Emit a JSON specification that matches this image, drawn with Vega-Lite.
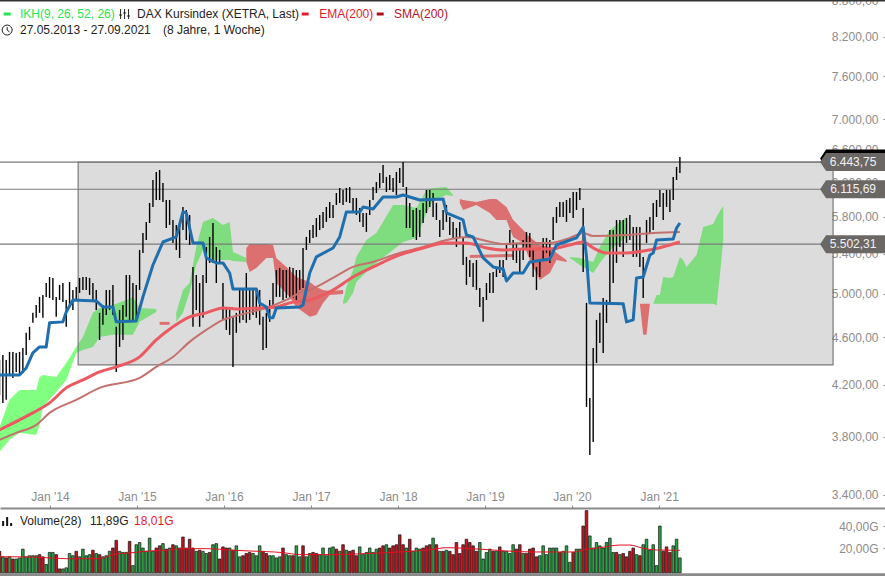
{"$schema":"https://vega.github.io/schema/vega-lite/v6.json","width":885,"height":576,"padding":0,"autosize":{"type":"none"},"background":"white","view":{"stroke":null},"config":{"font":"Liberation Sans","text":{"font":"Liberation Sans"},"axis":{"labelFont":"Liberation Sans"}},
"datasets":{
"bars":[
{"d":"2013-06-03","hi":4404,"lo":4118,"v":17,"c":"d"},{"d":"2013-06-17","hi":4447,"lo":4055,"v":12,"c":"u"},{"d":"2013-07-01","hi":4404,"lo":4079,"v":11,"c":"d"},{"d":"2013-07-15","hi":4473,"lo":4279,"v":12,"c":"u"},{"d":"2013-07-29","hi":4473,"lo":4255,"v":10,"c":"d"},{"d":"2013-08-12","hi":4464,"lo":4304,"v":10,"c":"u"},{"d":"2013-08-26","hi":4473,"lo":4279,"v":11,"c":"u"},{"d":"2013-09-09","hi":4507,"lo":4296,"v":19,"c":"u"},{"d":"2013-09-23","hi":4640,"lo":4447,"v":12,"c":"u"},{"d":"2013-10-07","hi":4694,"lo":4577,"v":13,"c":"u"},{"d":"2013-10-21","hi":4822,"lo":4730,"v":13,"c":"u"},{"d":"2013-11-04","hi":4896,"lo":4776,"v":13,"c":"u"},{"d":"2013-11-18","hi":4972,"lo":4822,"v":14,"c":"d"},{"d":"2013-12-02","hi":4991,"lo":4776,"v":12,"c":"d"},{"d":"2013-12-16","hi":5107,"lo":4972,"v":5,"c":"u"},{"d":"2013-12-30","hi":5166,"lo":4962,"v":16,"c":"u"},
{"d":"2014-01-13","hi":5157,"lo":4943,"v":16,"c":"u"},{"d":"2014-01-27","hi":4972,"lo":4785,"v":14,"c":"d"},{"d":"2014-02-10","hi":5088,"lo":4943,"v":1,"c":"d"},{"d":"2014-02-24","hi":5107,"lo":4924,"v":1,"c":"u"},{"d":"2014-03-10","hi":4943,"lo":4694,"v":2,"c":"u"},{"d":"2014-03-24","hi":5117,"lo":4877,"v":15,"c":"u"},{"d":"2014-04-07","hi":5039,"lo":4849,"v":13,"c":"u"},{"d":"2014-04-21","hi":5068,"lo":4943,"v":17,"c":"d"},{"d":"2014-05-05","hi":5157,"lo":5010,"v":12,"c":"u"},{"d":"2014-05-19","hi":5166,"lo":5039,"v":19,"c":"u"},{"d":"2014-06-02","hi":5166,"lo":5039,"v":13,"c":"u"},{"d":"2014-06-16","hi":5157,"lo":4991,"v":14,"c":"u"},{"d":"2014-06-30","hi":5107,"lo":4943,"v":18,"c":"d"},{"d":"2014-07-14","hi":5039,"lo":4849,"v":15,"c":"u"},{"d":"2014-07-28","hi":4822,"lo":4577,"v":14,"c":"d"},{"d":"2014-08-11","hi":4896,"lo":4712,"v":12,"c":"u"},{"d":"2014-08-25","hi":5039,"lo":4803,"v":13,"c":"u"},{"d":"2014-09-08","hi":5039,"lo":4849,"v":17,"c":"u"},{"d":"2014-09-22","hi":5088,"lo":4803,"v":20,"c":"d"},{"d":"2014-10-06","hi":4694,"lo":4304,"v":27,"c":"d"},{"d":"2014-10-20","hi":4849,"lo":4516,"v":17,"c":"u"},{"d":"2014-11-03","hi":4896,"lo":4577,"v":16,"c":"u"},{"d":"2014-11-17","hi":5186,"lo":4785,"v":16,"c":"u"},{"d":"2014-12-01","hi":5186,"lo":4757,"v":26,"c":"d"},{"d":"2014-12-15","hi":5107,"lo":4757,"v":4,"c":"u"},{"d":"2014-12-29","hi":5088,"lo":4757,"v":23,"c":"u"},
{"d":"2015-01-12","hi":5442,"lo":5039,"v":25,"c":"u"},{"d":"2015-01-26","hi":5623,"lo":5411,"v":20,"c":"u"},{"d":"2015-02-09","hi":5743,"lo":5547,"v":17,"c":"u"},{"d":"2015-02-23","hi":5957,"lo":5732,"v":29,"c":"u"},{"d":"2015-03-09","hi":6226,"lo":5911,"v":17,"c":"u"},{"d":"2015-03-23","hi":6323,"lo":5991,"v":20,"c":"d"},{"d":"2015-04-06","hi":6347,"lo":5991,"v":22,"c":"d"},{"d":"2015-04-20","hi":6190,"lo":5968,"v":24,"c":"u"},{"d":"2015-05-04","hi":5991,"lo":5677,"v":19,"c":"d"},{"d":"2015-05-18","hi":5991,"lo":5710,"v":20,"c":"u"},{"d":"2015-06-01","hi":5765,"lo":5516,"v":23,"c":"d"},{"d":"2015-06-15","hi":5710,"lo":5442,"v":22,"c":"u"},{"d":"2015-06-29","hi":5732,"lo":5359,"v":20,"c":"d"},{"d":"2015-07-13","hi":5911,"lo":5655,"v":30,"c":"d"},{"d":"2015-07-27","hi":5877,"lo":5547,"v":20,"c":"d"},{"d":"2015-08-10","hi":5821,"lo":5494,"v":28,"c":"d"},{"d":"2015-08-24","hi":5267,"lo":4694,"v":20,"c":"d"},{"d":"2015-09-07","hi":5186,"lo":4849,"v":17,"c":"u"},{"d":"2015-09-21","hi":5107,"lo":4694,"v":18,"c":"d"},{"d":"2015-10-05","hi":5186,"lo":4776,"v":17,"c":"u"},{"d":"2015-10-19","hi":5473,"lo":5107,"v":15,"c":"u"},{"d":"2015-11-02","hi":5580,"lo":5308,"v":16,"c":"d"},{"d":"2015-11-16","hi":5732,"lo":5308,"v":23,"c":"u"},{"d":"2015-11-30","hi":5473,"lo":5107,"v":24,"c":"u"},{"d":"2015-12-14","hi":5442,"lo":5308,"v":10,"c":"d"},{"d":"2015-12-28","hi":5107,"lo":4757,"v":21,"c":"d"},
{"d":"2016-01-11","hi":4877,"lo":4666,"v":20,"c":"d"},{"d":"2016-01-25","hi":4849,"lo":4622,"v":20,"c":"u"},{"d":"2016-02-08","hi":4785,"lo":4346,"v":18,"c":"d"},{"d":"2016-02-22","hi":4822,"lo":4640,"v":22,"c":"u"},{"d":"2016-03-07","hi":5039,"lo":4730,"v":12,"c":"u"},{"d":"2016-03-21","hi":5039,"lo":4757,"v":13,"c":"d"},{"d":"2016-04-04","hi":5206,"lo":4730,"v":15,"c":"d"},{"d":"2016-04-18","hi":5039,"lo":4757,"v":16,"c":"d"},{"d":"2016-05-02","hi":5039,"lo":4803,"v":15,"c":"u"},{"d":"2016-05-16","hi":5039,"lo":4776,"v":13,"c":"u"},{"d":"2016-05-30","hi":5039,"lo":4712,"v":22,"c":"u"},{"d":"2016-06-13","hi":4785,"lo":4490,"v":17,"c":"d"},{"d":"2016-06-27","hi":4822,"lo":4507,"v":15,"c":"d"},{"d":"2016-07-11","hi":4943,"lo":4739,"v":13,"c":"u"},{"d":"2016-07-25","hi":5107,"lo":4877,"v":13,"c":"u"},{"d":"2016-08-08","hi":5236,"lo":4972,"v":11,"c":"u"},{"d":"2016-08-22","hi":5257,"lo":4972,"v":12,"c":"u"},{"d":"2016-09-05","hi":5236,"lo":4943,"v":20,"c":"d"},{"d":"2016-09-19","hi":5236,"lo":4962,"v":14,"c":"u"},{"d":"2016-10-03","hi":5267,"lo":4972,"v":13,"c":"u"},{"d":"2016-10-17","hi":5257,"lo":4962,"v":13,"c":"d"},{"d":"2016-10-31","hi":5236,"lo":4943,"v":22,"c":"u"},{"d":"2016-11-14","hi":5236,"lo":5039,"v":12,"c":"u"},{"d":"2016-11-28","hi":5463,"lo":5058,"v":22,"c":"d"},{"d":"2016-12-12","hi":5580,"lo":5442,"v":12,"c":"u"},{"d":"2016-12-26","hi":5655,"lo":5516,"v":15,"c":"u"},
{"d":"2017-01-09","hi":5710,"lo":5569,"v":16,"c":"d"},{"d":"2017-01-23","hi":5787,"lo":5580,"v":15,"c":"d"},{"d":"2017-02-06","hi":5821,"lo":5655,"v":14,"c":"u"},{"d":"2017-02-20","hi":5855,"lo":5677,"v":20,"c":"u"},{"d":"2017-03-06","hi":5911,"lo":5743,"v":13,"c":"u"},{"d":"2017-03-20","hi":5968,"lo":5787,"v":20,"c":"u"},{"d":"2017-04-03","hi":5934,"lo":5787,"v":21,"c":"u"},{"d":"2017-04-17","hi":6072,"lo":5934,"v":19,"c":"d"},{"d":"2017-05-01","hi":6131,"lo":5957,"v":17,"c":"u"},{"d":"2017-05-15","hi":6107,"lo":5934,"v":23,"c":"d"},{"d":"2017-05-29","hi":6131,"lo":5968,"v":18,"c":"u"},{"d":"2017-06-12","hi":6143,"lo":5957,"v":17,"c":"d"},{"d":"2017-06-26","hi":6014,"lo":5843,"v":18,"c":"d"},{"d":"2017-07-10","hi":6014,"lo":5821,"v":13,"c":"d"},{"d":"2017-07-24","hi":5900,"lo":5743,"v":21,"c":"u"},{"d":"2017-08-07","hi":5843,"lo":5688,"v":14,"c":"u"},{"d":"2017-08-21","hi":5843,"lo":5634,"v":16,"c":"u"},{"d":"2017-09-04","hi":5991,"lo":5821,"v":20,"c":"u"},{"d":"2017-09-18","hi":6143,"lo":5991,"v":16,"c":"u"},{"d":"2017-10-02","hi":6202,"lo":6072,"v":19,"c":"u"},{"d":"2017-10-16","hi":6311,"lo":6131,"v":20,"c":"d"},{"d":"2017-10-30","hi":6408,"lo":6190,"v":22,"c":"d"},{"d":"2017-11-13","hi":6263,"lo":6084,"v":23,"c":"u"},{"d":"2017-11-27","hi":6287,"lo":6107,"v":20,"c":"d"},{"d":"2017-12-11","hi":6251,"lo":6084,"v":22,"c":"d"},{"d":"2017-12-25","hi":6323,"lo":6049,"v":23,"c":"d"},
{"d":"2018-01-08","hi":6372,"lo":6190,"v":32,"c":"d"},{"d":"2018-01-22","hi":6445,"lo":6143,"v":23,"c":"d"},{"d":"2018-02-05","hi":6143,"lo":5677,"v":20,"c":"u"},{"d":"2018-02-19","hi":5957,"lo":5677,"v":28,"c":"d"},{"d":"2018-03-05","hi":5877,"lo":5580,"v":17,"c":"u"},{"d":"2018-03-19","hi":5900,"lo":5547,"v":20,"c":"u"},{"d":"2018-04-02","hi":5877,"lo":5580,"v":19,"c":"u"},{"d":"2018-04-16","hi":5957,"lo":5732,"v":20,"c":"d"},{"d":"2018-04-30","hi":6107,"lo":5843,"v":22,"c":"d"},{"d":"2018-05-14","hi":6107,"lo":5911,"v":23,"c":"d"},{"d":"2018-05-28","hi":6072,"lo":5798,"v":29,"c":"u"},{"d":"2018-06-11","hi":5957,"lo":5765,"v":23,"c":"d"},{"d":"2018-06-25","hi":5765,"lo":5580,"v":17,"c":"u"},{"d":"2018-07-09","hi":5877,"lo":5655,"v":17,"c":"d"},{"d":"2018-07-23","hi":5934,"lo":5743,"v":18,"c":"u"},{"d":"2018-08-06","hi":5798,"lo":5601,"v":17,"c":"d"},{"d":"2018-08-20","hi":5743,"lo":5569,"v":14,"c":"d"},{"d":"2018-09-03","hi":5677,"lo":5473,"v":25,"c":"d"},{"d":"2018-09-17","hi":5743,"lo":5580,"v":15,"c":"d"},{"d":"2018-10-01","hi":5569,"lo":5287,"v":23,"c":"d"},{"d":"2018-10-15","hi":5370,"lo":5088,"v":28,"c":"d"},{"d":"2018-10-29","hi":5338,"lo":5166,"v":25,"c":"d"},{"d":"2018-11-12","hi":5308,"lo":5068,"v":22,"c":"d"},{"d":"2018-11-26","hi":5338,"lo":5039,"v":17,"c":"d"},{"d":"2018-12-10","hi":5058,"lo":4877,"v":25,"c":"u"},{"d":"2018-12-24","hi":4972,"lo":4739,"v":10,"c":"u"},
{"d":"2019-01-07","hi":5107,"lo":4943,"v":16,"c":"u"},{"d":"2019-01-21","hi":5206,"lo":5010,"v":19,"c":"u"},{"d":"2019-02-04","hi":5216,"lo":5010,"v":17,"c":"d"},{"d":"2019-02-18","hi":5267,"lo":5166,"v":17,"c":"u"},{"d":"2019-03-04","hi":5338,"lo":5206,"v":21,"c":"d"},{"d":"2019-03-18","hi":5338,"lo":5166,"v":17,"c":"u"},{"d":"2019-04-01","hi":5516,"lo":5338,"v":17,"c":"u"},{"d":"2019-04-15","hi":5655,"lo":5494,"v":15,"c":"u"},{"d":"2019-04-29","hi":5547,"lo":5338,"v":23,"c":"u"},{"d":"2019-05-13","hi":5516,"lo":5308,"v":19,"c":"d"},{"d":"2019-05-27","hi":5442,"lo":5206,"v":23,"c":"d"},{"d":"2019-06-10","hi":5547,"lo":5338,"v":15,"c":"u"},{"d":"2019-06-24","hi":5634,"lo":5442,"v":15,"c":"d"},{"d":"2019-07-08","hi":5623,"lo":5370,"v":19,"c":"d"},{"d":"2019-07-22","hi":5442,"lo":5166,"v":20,"c":"d"},{"d":"2019-08-05","hi":5267,"lo":5039,"v":12,"c":"d"},{"d":"2019-08-19","hi":5338,"lo":5166,"v":13,"c":"u"},{"d":"2019-09-02","hi":5569,"lo":5338,"v":22,"c":"u"},{"d":"2019-09-16","hi":5569,"lo":5411,"v":14,"c":"u"},{"d":"2019-09-30","hi":5547,"lo":5308,"v":20,"c":"u"},{"d":"2019-10-14","hi":5798,"lo":5547,"v":20,"c":"u"},{"d":"2019-10-28","hi":5911,"lo":5732,"v":20,"c":"u"},{"d":"2019-11-11","hi":5968,"lo":5798,"v":16,"c":"d"},{"d":"2019-11-25","hi":5968,"lo":5798,"v":17,"c":"u"},{"d":"2019-12-09","hi":5991,"lo":5743,"v":22,"c":"u"},{"d":"2019-12-23","hi":6014,"lo":5843,"v":7,"c":"u"},
{"d":"2020-01-06","hi":6084,"lo":5787,"v":16,"c":"d"},{"d":"2020-01-20","hi":6084,"lo":5877,"v":19,"c":"u"},{"d":"2020-02-03","hi":6131,"lo":5991,"v":19,"c":"u"},{"d":"2020-02-17","hi":5900,"lo":5216,"v":40,"c":"d"},{"d":"2020-03-02","hi":4915,"lo":4024,"v":54,"c":"d"},{"d":"2020-03-16","hi":4094,"lo":3669,"v":31,"c":"u"},{"d":"2020-03-30","hi":4507,"lo":3762,"v":20,"c":"u"},{"d":"2020-04-13","hi":4757,"lo":4379,"v":25,"c":"u"},{"d":"2020-04-27","hi":4822,"lo":4551,"v":22,"c":"u"},{"d":"2020-05-11","hi":4962,"lo":4464,"v":20,"c":"u"},{"d":"2020-05-25","hi":4943,"lo":4730,"v":25,"c":"u"},{"d":"2020-06-08","hi":5655,"lo":4915,"v":29,"c":"u"},{"d":"2020-06-22","hi":5655,"lo":5107,"v":16,"c":"u"},{"d":"2020-07-06","hi":5765,"lo":5308,"v":16,"c":"d"},{"d":"2020-07-20","hi":5765,"lo":5473,"v":14,"c":"u"},{"d":"2020-08-03","hi":5765,"lo":5370,"v":15,"c":"d"},{"d":"2020-08-17","hi":5787,"lo":5516,"v":12,"c":"d"},{"d":"2020-08-31","hi":5821,"lo":5547,"v":17,"c":"d"},{"d":"2020-09-14","hi":5688,"lo":5370,"v":20,"c":"d"},{"d":"2020-09-28","hi":5688,"lo":5370,"v":14,"c":"u"},{"d":"2020-10-12","hi":5688,"lo":5267,"v":13,"c":"d"},{"d":"2020-10-26","hi":5370,"lo":4962,"v":23,"c":"u"},{"d":"2020-11-09","hi":5765,"lo":5516,"v":28,"c":"u"},{"d":"2020-11-23","hi":5798,"lo":5623,"v":18,"c":"u"},{"d":"2020-12-07","hi":5957,"lo":5655,"v":23,"c":"u"},{"d":"2020-12-21","hi":5991,"lo":5798,"v":4,"c":"u"},
{"d":"2021-01-04","hi":6107,"lo":5911,"v":40,"c":"u"},{"d":"2021-01-18","hi":6072,"lo":5765,"v":17,"c":"d"},{"d":"2021-02-01","hi":6107,"lo":5911,"v":21,"c":"d"},{"d":"2021-02-15","hi":6107,"lo":5855,"v":16,"c":"d"},{"d":"2021-03-01","hi":6263,"lo":5991,"v":22,"c":"u"},{"d":"2021-03-15","hi":6384,"lo":6226,"v":28,"c":"u"},{"d":"2021-03-29","hi":6507,"lo":6311,"v":11,"c":"u"}],
"kijun":[{"d":"2013-06-03","p":4279},{"d":"2013-08-26","p":4279},{"d":"2013-09-23","p":4337},{"d":"2013-10-21","p":4464},{"d":"2013-11-18","p":4516},{"d":"2013-12-16","p":4516},{"d":"2013-12-30","p":4730},{"d":"2014-02-24","p":4739},{"d":"2014-03-10","p":4830},{"d":"2014-04-07","p":4943},{"d":"2014-07-14","p":4934},{"d":"2014-08-11","p":4877},{"d":"2014-09-22","p":4877},{"d":"2014-10-06","p":4739},{"d":"2014-12-29","p":4748},{"d":"2015-01-26","p":4972},{"d":"2015-03-09","p":5287},{"d":"2015-04-20","p":5526},{"d":"2015-06-15","p":5580},{"d":"2015-07-13","p":5855},{"d":"2015-07-27","p":5843},{"d":"2015-08-24","p":5516},{"d":"2015-10-05","p":5516},{"d":"2015-10-19","p":5359},{"d":"2015-11-30","p":5308},{"d":"2015-12-28","p":5308},{"d":"2016-01-25","p":5206},{"d":"2016-02-08","p":5049},{"d":"2016-05-16","p":5049},{"d":"2016-05-30","p":4915},{"d":"2016-06-27","p":4877},{"d":"2016-07-11","p":4776},{"d":"2016-07-25","p":4776},{"d":"2016-08-08","p":4868},{"d":"2016-11-14","p":4877},{"d":"2016-11-28","p":4896},{"d":"2016-12-26","p":5206},{"d":"2017-01-23","p":5370},{"d":"2017-04-03","p":5463},{"d":"2017-05-01","p":5580},{"d":"2017-05-29","p":5855},{"d":"2017-07-24","p":5855},{"d":"2017-08-07","p":5911},{"d":"2017-09-18","p":5888},{"d":"2017-10-30","p":6026},{"d":"2017-12-25","p":6026},{"d":"2018-01-22","p":6049},{"d":"2018-04-02","p":5991},{"d":"2018-07-09","p":6003},{"d":"2018-07-23","p":5843},{"d":"2018-10-01","p":5765},{"d":"2018-10-15","p":5601},{"d":"2018-11-12","p":5580},{"d":"2018-12-24","p":5359},{"d":"2019-02-04","p":5267},{"d":"2019-03-18","p":5247},{"d":"2019-04-01","p":5127},{"d":"2019-04-29","p":5206},{"d":"2019-06-10","p":5206},{"d":"2019-07-08","p":5318},{"d":"2019-09-30","p":5349},{"d":"2019-10-28","p":5494},{"d":"2020-01-20","p":5569},{"d":"2020-02-17","p":5688},{"d":"2020-03-02","p":5370},{"d":"2020-03-16","p":4915},{"d":"2020-08-03","p":4906},{"d":"2020-08-17","p":4739},{"d":"2020-09-14","p":4757},{"d":"2020-09-28","p":5157},{"d":"2020-10-26","p":5166},{"d":"2020-11-23","p":5390},{"d":"2020-12-07","p":5411},{"d":"2020-12-21","p":5547},{"d":"2021-03-01","p":5558},{"d":"2021-03-15","p":5677},{"d":"2021-03-29","p":5732}],
"ema":[{"d":"2013-06-03","p":3850},{"d":"2013-08-26","p":3925},{"d":"2013-10-21","p":3978},{"d":"2013-12-30","p":4055},{"d":"2014-03-10","p":4174},{"d":"2014-05-19","p":4238},{"d":"2014-07-28","p":4304},{"d":"2014-10-06","p":4346},{"d":"2015-01-12","p":4430},{"d":"2015-03-23","p":4577},{"d":"2015-06-01","p":4694},{"d":"2015-08-10","p":4785},{"d":"2015-10-19","p":4822},{"d":"2015-12-28","p":4868},{"d":"2016-03-07","p":4858},{"d":"2016-05-30","p":4868},{"d":"2016-08-08","p":4877},{"d":"2016-10-03","p":4915},{"d":"2016-12-26","p":4943},{"d":"2017-04-03","p":5039},{"d":"2017-06-26","p":5166},{"d":"2017-09-18","p":5267},{"d":"2018-01-08","p":5390},{"d":"2018-04-16","p":5463},{"d":"2018-07-23","p":5516},{"d":"2018-10-15","p":5516},{"d":"2019-01-07","p":5463},{"d":"2019-03-18","p":5442},{"d":"2019-06-10","p":5452},{"d":"2019-09-30","p":5452},{"d":"2019-12-23","p":5494},{"d":"2020-02-17","p":5526},{"d":"2020-03-30","p":5463},{"d":"2020-05-25","p":5411},{"d":"2020-08-17","p":5411},{"d":"2020-11-23","p":5442},{"d":"2021-03-29","p":5526}],
"sma":[{"d":"2013-06-03","p":3777},{"d":"2013-08-12","p":3828},{"d":"2013-11-04","p":3887},{"d":"2013-12-30","p":3978},{"d":"2014-04-21","p":4079},{"d":"2014-07-28","p":4174},{"d":"2015-01-12","p":4255},{"d":"2015-03-23","p":4346},{"d":"2015-06-01","p":4430},{"d":"2015-08-10","p":4560},{"d":"2015-10-19","p":4666},{"d":"2015-12-28","p":4757},{"d":"2016-03-07","p":4803},{"d":"2016-06-27","p":4868},{"d":"2016-09-19","p":4943},{"d":"2016-11-14","p":5010},{"d":"2016-12-26","p":5039},{"d":"2017-04-03","p":5157},{"d":"2017-06-26","p":5267},{"d":"2017-09-18","p":5318},{"d":"2018-01-08","p":5411},{"d":"2018-04-16","p":5473},{"d":"2018-07-23","p":5547},{"d":"2018-10-15","p":5580},{"d":"2019-01-07","p":5537},{"d":"2019-03-18","p":5505},{"d":"2019-06-10","p":5516},{"d":"2019-09-30","p":5516},{"d":"2019-12-23","p":5569},{"d":"2020-02-17","p":5623},{"d":"2020-03-30","p":5590},{"d":"2020-08-17","p":5601},{"d":"2020-12-07","p":5623},{"d":"2021-03-29","p":5634}],
"cloudUp":[{"s":"a","d":"2013-06-03","p":3872,"p2":3691},{"s":"a","d":"2013-07-15","p":4079,"p2":3777},{"s":"a","d":"2013-08-26","p":4158,"p2":3828},{"s":"a","d":"2013-11-04","p":4158,"p2":3813},{"s":"a","d":"2013-11-18","p":4263,"p2":3887},{"s":"a","d":"2013-12-02","p":4279,"p2":4024},{"s":"a","d":"2014-01-27","p":4263,"p2":4142},{"s":"a","d":"2014-03-10","p":4379,"p2":4238},{"s":"a","d":"2014-04-21","p":4516,"p2":4464},{"s":"a","d":"2014-05-19","p":4604,"p2":4490},{"s":"a","d":"2014-06-30","p":4822,"p2":4516},{"s":"a","d":"2014-07-28","p":4868,"p2":4604},{"s":"a","d":"2014-09-22","p":4896,"p2":4622},{"s":"a","d":"2014-11-17","p":4943,"p2":4622},{"s":"a","d":"2014-12-15","p":4972,"p2":4622},{"s":"a","d":"2015-01-12","p":4868,"p2":4739},{"s":"a","d":"2015-03-23","p":4858,"p2":4830},
{"s":"b","d":"2015-06-15","p":4822,"p2":4739},{"s":"b","d":"2015-07-13","p":5039,"p2":4822},{"s":"b","d":"2015-08-10","p":5107,"p2":5020},{"s":"b","d":"2015-09-07","p":5473,"p2":5287},{"s":"b","d":"2015-10-05","p":5743,"p2":5442},{"s":"b","d":"2015-11-16","p":5787,"p2":5338},{"s":"b","d":"2015-12-28","p":5710,"p2":5338},{"s":"b","d":"2016-01-25","p":5743,"p2":5338},{"s":"b","d":"2016-02-08","p":5421,"p2":5328},{"s":"b","d":"2016-04-04","p":5359,"p2":5318},
{"s":"c","d":"2017-05-15","p":4924,"p2":4906},{"s":"c","d":"2017-05-29","p":5068,"p2":4915},{"s":"c","d":"2017-06-26","p":5236,"p2":5010},{"s":"c","d":"2017-07-10","p":5370,"p2":5117},{"s":"c","d":"2017-08-21","p":5547,"p2":5216},{"s":"c","d":"2017-10-02","p":5623,"p2":5308},{"s":"c","d":"2017-12-11","p":5934,"p2":5442},{"s":"c","d":"2018-01-22","p":5934,"p2":5526},{"s":"c","d":"2018-03-19","p":5900,"p2":5569},{"s":"c","d":"2018-04-30","p":6107,"p2":5843},{"s":"c","d":"2018-05-28","p":6131,"p2":5991},{"s":"c","d":"2018-07-23","p":6143,"p2":6049},{"s":"c","d":"2018-08-20","p":6049,"p2":6037},
{"s":"d","d":"2019-12-23","p":5370,"p2":5359},{"s":"d","d":"2020-02-03","p":5359,"p2":5287},{"s":"d","d":"2020-03-30","p":5318,"p2":5206},{"s":"d","d":"2020-04-27","p":5473,"p2":5308},{"s":"d","d":"2020-06-08","p":5655,"p2":5442},{"s":"d","d":"2020-08-17","p":5798,"p2":5580},
{"s":"e","d":"2020-12-07","p":4906,"p2":4906},{"s":"e","d":"2020-12-21","p":4991,"p2":4906},{"s":"e","d":"2021-01-04","p":4991,"p2":4906},{"s":"e","d":"2021-01-18","p":5166,"p2":4906},{"s":"e","d":"2021-02-15","p":5157,"p2":4906},{"s":"e","d":"2021-03-01","p":5166,"p2":4906},{"s":"e","d":"2021-03-29","p":5370,"p2":4906},{"s":"e","d":"2021-04-12","p":5338,"p2":4906},{"s":"e","d":"2021-04-26","p":5267,"p2":4906},{"s":"e","d":"2021-06-07","p":5390,"p2":4906},{"s":"e","d":"2021-07-05","p":5688,"p2":4906},{"s":"e","d":"2021-08-16","p":5721,"p2":4906},{"s":"e","d":"2021-08-30","p":5798,"p2":4890},{"s":"e","d":"2021-09-13","p":5866,"p2":5186},{"s":"e","d":"2021-09-27","p":5923,"p2":5547}],
"cloudDown":[{"s":"a","d":"2016-04-04","p":5463,"p2":5318},{"s":"a","d":"2016-04-18","p":5505,"p2":5216},{"s":"a","d":"2016-05-16","p":5505,"p2":5257},{"s":"a","d":"2016-06-27","p":5505,"p2":5359},{"s":"a","d":"2016-07-25","p":5494,"p2":5359},{"s":"a","d":"2016-08-08","p":5359,"p2":5107},{"s":"a","d":"2016-10-03","p":5236,"p2":4972},{"s":"a","d":"2016-10-31","p":5166,"p2":4877},{"s":"a","d":"2016-12-26","p":5117,"p2":4785},{"s":"a","d":"2017-01-23","p":5068,"p2":4803},{"s":"a","d":"2017-02-20","p":5039,"p2":4915},{"s":"a","d":"2017-03-20","p":5029,"p2":4991},{"s":"a","d":"2017-05-15","p":5039,"p2":5000},
{"s":"b","d":"2018-09-17","p":6003,"p2":5957},{"s":"b","d":"2018-10-01","p":5991,"p2":5877},{"s":"b","d":"2018-11-26","p":5968,"p2":5934},{"s":"b","d":"2019-01-21","p":6003,"p2":5843},{"s":"b","d":"2019-02-18","p":6003,"p2":5765},{"s":"b","d":"2019-04-01","p":5911,"p2":5765},{"s":"b","d":"2019-04-29","p":5765,"p2":5580},{"s":"b","d":"2019-06-10","p":5655,"p2":5516},{"s":"b","d":"2019-07-08","p":5580,"p2":5338},{"s":"b","d":"2019-08-19","p":5494,"p2":5137},{"s":"b","d":"2019-09-30","p":5473,"p2":5206},{"s":"b","d":"2019-10-28","p":5411,"p2":5338},{"s":"b","d":"2019-12-09","p":5338,"p2":5318},
{"s":"c","d":"2018-10-29","p":5390,"p2":5359},{"s":"c","d":"2019-04-29","p":5400,"p2":5369},
{"s":"d","d":"2015-04-06","p":4739,"p2":4712},{"s":"d","d":"2015-05-18","p":4739,"p2":4712},
{"s":"e","d":"2020-10-12","p":4906,"p2":4906},{"s":"e","d":"2020-10-26","p":4906,"p2":4622},{"s":"e","d":"2020-11-09","p":4906,"p2":4622},{"s":"e","d":"2020-11-23","p":4906,"p2":4906}],
"volAvg":[{"d":"2013-06-03","v":12},{"d":"2013-08-26","v":12},{"d":"2013-12-16","v":11.2},{"d":"2014-03-10","v":10.3},{"d":"2014-07-28","v":10.3},{"d":"2014-09-22","v":14},{"d":"2014-12-15","v":15.8},{"d":"2015-02-23","v":17.3},{"d":"2015-05-04","v":18},{"d":"2015-07-13","v":19.4},{"d":"2015-10-19","v":19.4},{"d":"2016-02-08","v":18},{"d":"2016-04-18","v":17.3},{"d":"2016-09-05","v":15.8},{"d":"2016-11-14","v":14},{"d":"2017-04-03","v":14},{"d":"2017-08-21","v":15},{"d":"2018-01-08","v":16.4},{"d":"2018-05-28","v":18.8},{"d":"2018-07-23","v":20.3},{"d":"2018-12-24","v":18.8},{"d":"2019-04-01","v":17.3},{"d":"2019-07-22","v":16.4},{"d":"2020-01-06","v":16.4},{"d":"2020-03-02","v":18.8},{"d":"2020-04-27","v":20.3},{"d":"2020-07-20","v":22.7},{"d":"2020-08-31","v":22.7},{"d":"2020-10-26","v":19.7},{"d":"2020-12-21","v":18.2},{"d":"2021-03-29","v":17.9}],
"box":[{"d":"2014-04-29","d2":"2023-01-01","p":6443.75,"p2":4362}],
"levels":[{"d":"2013-06-03","d2":"2023-01-01","p":6443.75},{"d":"2013-06-03","d2":"2023-01-01","p":6115.69},{"d":"2013-06-03","d2":"2023-01-01","p":5502.31}],
"tags":[{"d":"2023-03-26","p":6443.75,"t":"6.443,75"},{"d":"2023-03-26","p":6115.69,"t":"6.115,69"},{"d":"2023-03-26","p":5502.31,"t":"5.502,31"}],
"lastTag":[{"d":"2023-03-26","p":6490}],
"edgeTop":[{"d":"2013-06-05","d2":"2023-08-07","p":8801}],
"edgeBottom":[{"d":"2013-06-05","d2":"2023-08-07","v":-4.2}],
"dash":[{"d":"2013-07-05","p":8567,"k":"ikh"},{"d":"2016-12-07","p":8567,"k":"ema"},{"d":"2017-10-18","p":8567,"k":"sma"}],
"ohlcIcon":[{"d":"2014-11-10","p":8567}],
"clockIcon":[{"d":"2013-07-05","p":8307}],
"volIcon":[{"d":"2013-07-05","v":44.5}],
"head":[{"d":"2013-08-28","p":8567,"t":"IKH(9, 26, 52, 26)","k":"ikh"},{"d":"2015-01-01","p":8567,"t":"DAX Kursindex (XETRA, Last)","k":"base"},{"d":"2017-02-04","p":8567,"t":"EMA(200)","k":"ema"},{"d":"2017-12-15","p":8567,"t":"SMA(200)","k":"sma"},{"d":"2013-08-28","p":8307,"t":"27.05.2013 - 27.09.2021","k":"base"},{"d":"2015-04-20","p":8307,"t":"(8 Jahre, 1 Woche)","k":"base"}],
"volHead":[{"d":"2013-08-28","v":44.5,"t":"Volume(28)","k":"base"},{"d":"2014-06-18","v":44.5,"t":"11,89G","k":"base"},{"d":"2014-12-20","v":44.5,"t":"18,01G","k":"ema"}]
},
"encoding":{"x":{"field":"d","type":"temporal","title":null,"scale":{"type":"utc","domain":["2013-06-05","2023-08-07"],"nice":false,"padding":0},"axis":{"orient":"bottom","offset":-68,"grid":false,"title":null,"domainColor":"#8a8a8a","domainWidth":2,"tickColor":"#8a8a8a","tickSize":-3,"labelColor":"#8c8c8c","labelFontSize":12,"labelPadding":-14,"labelFlush":false,"values":[1388534400000,1420070400000,1451606400000,1483228800000,1514764800000,1546300800000,1577836800000,1609459200000],"labelExpr":"\"Jan '\" + utcFormat(datum.value,'%y')"}}},
"layer":[
{"encoding":{"y":{"field":"p","type":"quantitative","title":null,"scale":{"type":"log","domain":[3313,8801],"range":[508,0],"nice":false}}},
"layer":[
{"data":{"name":"cloudUp"},"mark":{"type":"area","color":"#80ff80","opacity":1},"encoding":{"detail":{"field":"s"},"y":{"field":"p","type":"quantitative","title":null,"scale":{"type":"log","domain":[3313,8801],"range":[508,0],"nice":false},"axis":{"orient":"right","offset":-2,"grid":false,"domain":false,"title":null,"tickColor":"#8a8a8a","tickSize":2,"labelAlign":"right","labelPadding":-7,"labelColor":"#8c8c8c","labelFontSize":12,"values":[3400,3800,4200,4600,5000,5400,5800,6200,6600,7000,7600,8200,8800],"labelExpr":"replace(replace(replace(format(datum.value,',.2f'),',','#'),'.',','),'#','.')"}},"y2":{"field":"p2"}}},
{"data":{"name":"cloudDown"},"mark":{"type":"area","color":"#ff6c6c","opacity":1},"encoding":{"detail":{"field":"s"},"y2":{"field":"p2"}}},
{"data":{"name":"box"},"mark":{"type":"rect","color":"#7c7c7c","opacity":0.268},"encoding":{"x2":{"field":"d2"},"y2":{"field":"p2"}}},
{"data":{"name":"box"},"mark":{"type":"rect","fillOpacity":0,"stroke":"#7a7a7a","strokeWidth":1.2},"encoding":{"x2":{"field":"d2"},"y2":{"field":"p2"}}},
{"data":{"name":"levels"},"mark":{"type":"rule","color":"#7a7a7a","strokeWidth":1.2},"encoding":{"x2":{"field":"d2"}}},
{"data":{"name":"bars"},"mark":{"type":"rule","color":"#000000","strokeWidth":1.4},"encoding":{"y":{"field":"hi","type":"quantitative","title":null},"y2":{"field":"lo"}}},
{"data":{"name":"sma"},"mark":{"type":"line","color":"#c4706c","strokeWidth":2,"interpolate":"monotone"}},
{"data":{"name":"ema"},"mark":{"type":"line","color":"#ea5a60","strokeWidth":3,"interpolate":"monotone"}},
{"data":{"name":"kijun"},"mark":{"type":"line","color":"#1f6eae","strokeWidth":3,"strokeJoin":"round"}},
{"data":{"name":"edgeTop"},"mark":{"type":"rule","color":"#333333","strokeWidth":3},"encoding":{"x2":{"field":"d2"}}},
{"data":{"name":"lastTag"},"mark":{"type":"point","filled":true,"opacity":1,"color":"#000000","size":4,"shape":"M-33,0 L-27,-9 L33,-9 L33,9 L-27,9 Z"}},
{"data":{"name":"tags"},"mark":{"type":"point","filled":true,"opacity":1,"color":"#6b6765","size":4,"shape":"M-33,0 L-27,-9 L33,-9 L33,9 L-27,9 Z"}},
{"data":{"name":"tags"},"mark":{"type":"text","color":"#f2f2f2","fontSize":12,"align":"center","baseline":"middle"},"encoding":{"text":{"field":"t"}}},
{"data":{"name":"dash"},"mark":{"type":"point","filled":true,"opacity":1,"size":4,"shape":"M-3.5,-1.5 L3.5,-1.5 L3.5,1.5 L-3.5,1.5 Z"},"encoding":{"color":{"field":"k","type":"nominal","legend":null,"scale":{"domain":["ikh","ema","sma"],"range":["#22e650","#e41b2a","#a8121c"]}}}},
{"data":{"name":"ohlcIcon"},"mark":{"type":"point","filled":false,"opacity":1,"color":"#222222","strokeWidth":1,"size":4,"shape":"M-4,-5 L-4,5 M-5.5,1 L-2.5,1 M0,-5 L0,5 M-1.5,-1 L1.5,-1 M4,-5 L4,5 M2.5,2 L5.5,2"}},
{"data":{"name":"clockIcon"},"mark":{"type":"point","filled":false,"opacity":1,"color":"#222222","strokeWidth":1,"size":4,"shape":"M-5,0 A5,5 0 1 1 5,0 A5,5 0 1 1 -5,0 M0,-3 L0,0 L2.5,2"}},
{"data":{"name":"head"},"transform":[{"filter":"datum.k=='ikh'"}],"mark":{"type":"text","color":"#22e650","fontSize":12,"align":"left","baseline":"middle"},"encoding":{"text":{"field":"t"}}},
{"data":{"name":"head"},"transform":[{"filter":"datum.k=='base'"}],"mark":{"type":"text","color":"#222222","fontSize":12,"align":"left","baseline":"middle"},"encoding":{"text":{"field":"t"}}},
{"data":{"name":"head"},"transform":[{"filter":"datum.k=='ema'"}],"mark":{"type":"text","color":"#e41b2a","fontSize":12,"align":"left","baseline":"middle"},"encoding":{"text":{"field":"t"}}},
{"data":{"name":"head"},"transform":[{"filter":"datum.k=='sma'"}],"mark":{"type":"text","color":"#b3131f","fontSize":12,"align":"left","baseline":"middle"},"encoding":{"text":{"field":"t"}}}
]},
{"encoding":{"y":{"field":"v","type":"quantitative","title":null,"scale":{"domain":[-5.45,56.4],"range":[576,508],"nice":false,"zero":false}}},
"layer":[
{"data":{"name":"edgeBottom"},"mark":{"type":"rule","color":"#8a8a8a","strokeWidth":3},"encoding":{"x2":{"field":"d2"},"y":{"field":"v","type":"quantitative","title":null,"scale":{"domain":[-5.45,56.4],"range":[576,508],"nice":false,"zero":false},"axis":{"orient":"right","offset":-2,"grid":false,"domain":false,"title":null,"tickColor":"#8a8a8a","tickSize":2,"labelAlign":"right","labelPadding":-7,"labelColor":"#8c8c8c","labelFontSize":12,"values":[20,40],"labelExpr":"datum.value + ',00G'"}}}},
{"data":{"name":"bars"},"mark":{"type":"bar","orient":"vertical","width":2.6,"stroke":"#111111","strokeWidth":0.7},"encoding":{"y":{"field":"v","type":"quantitative","title":null,"stack":null},"y2":{"datum":-2.5},"color":{"field":"c","type":"nominal","legend":null,"scale":{"domain":["u","d"],"range":["#2aa545","#c4141e"]}}}},
{"data":{"name":"volAvg"},"mark":{"type":"line","color":"#e3101e","strokeWidth":1,"interpolate":"monotone"}},
{"data":{"name":"volIcon"},"mark":{"type":"point","filled":true,"opacity":1,"color":"#111111","size":4,"shape":"M-5,5 L-5,0 L-3,0 L-3,5 Z M-1,5 L-1,-4 L1,-4 L1,5 Z M3,5 L3,2 L5,2 L5,5 Z"}},
{"data":{"name":"volHead"},"transform":[{"filter":"datum.k=='base'"}],"mark":{"type":"text","color":"#222222","fontSize":12,"align":"left","baseline":"middle"},"encoding":{"text":{"field":"t"}}},
{"data":{"name":"volHead"},"transform":[{"filter":"datum.k=='ema'"}],"mark":{"type":"text","color":"#e41b2a","fontSize":12,"align":"left","baseline":"middle"},"encoding":{"text":{"field":"t"}}}
]}
],
"resolve":{"scale":{"y":"independent","color":"independent"},"axis":{"y":"independent"}}}
